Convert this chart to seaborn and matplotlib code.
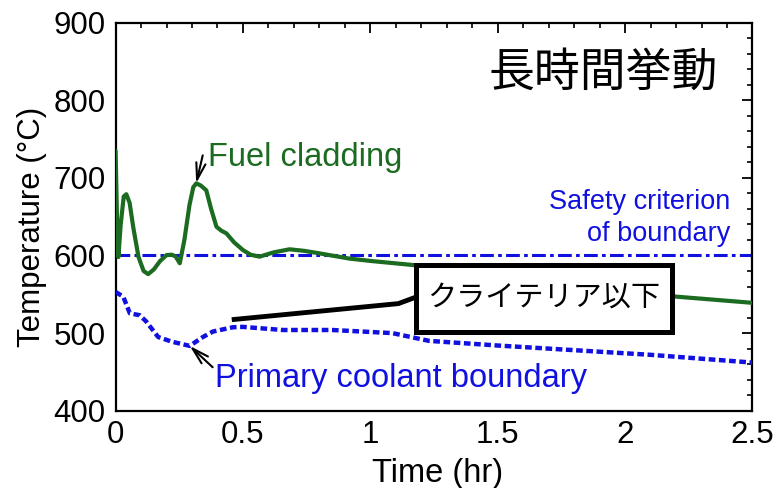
import matplotlib
matplotlib.use('Agg')
import matplotlib.pyplot as plt
from matplotlib.patches import Rectangle
from matplotlib.ticker import MultipleLocator
import pandas as pd
import seaborn as sns

# fuel cladding temperature (hr, degC)
fuel_t = [0.0, 0.006, 0.011, 0.02, 0.032, 0.042, 0.055, 0.07, 0.09, 0.11, 0.128,
          0.15, 0.175, 0.2, 0.22, 0.235, 0.252, 0.27, 0.29, 0.305, 0.317, 0.335,
          0.356, 0.375, 0.396, 0.415, 0.435, 0.465, 0.5, 0.53, 0.565, 0.62, 0.683,
          0.74, 0.787, 0.918, 1.0, 1.19, 1.5, 1.8, 2.0, 2.2, 2.5]
fuel_T = [735, 640, 598, 640, 676, 679, 668, 635, 598, 580, 576,
          582, 593, 600.5, 601, 599, 590, 620, 665, 688, 693, 690,
          684, 660, 637, 632, 628.5, 617, 607, 601, 598.5, 604, 608,
          606, 603.5, 596, 593, 587, 574, 562, 555, 547, 539]

# primary coolant boundary temperature
cool_t = [0.0, 0.03, 0.056, 0.095, 0.12, 0.167, 0.22, 0.291, 0.343, 0.382,
          0.46, 0.5, 0.656, 0.85, 1.086, 1.23, 1.5, 1.8, 2.1, 2.5]
cool_T = [553, 547, 525.5, 523, 515, 495, 489, 483.5, 495, 502,
          507.5, 508, 504, 504, 500, 490, 484, 478, 472, 462]

safety_T = 600

x_ticks = [0, 0.5, 1, 1.5, 2, 2.5]
x_ticklabels = ['0', '0.5', '1', '1.5', '2', '2.5']
y_ticks = [400, 500, 600, 700, 800, 900]

green = '#1b6b21'
blue = '#1010e0'

sns.set_theme(style='white')
plt.rcParams['font.family'] = ['Liberation Sans', 'Noto Sans CJK JP', 'DejaVu Sans']
plt.rcParams['text.color'] = 'black'
plt.rcParams['axes.labelcolor'] = 'black'

fuel = pd.DataFrame({'t': fuel_t, 'T': fuel_T})
cool = pd.DataFrame({'t': cool_t, 'T': cool_T})

fig = plt.figure(figsize=(7.81, 4.88), dpi=100)
ax = fig.add_axes([0.148, 0.1584, 0.8155, 0.7951])

ax.axhline(safety_T, color=blue, lw=2.2, linestyle=(0, (4.5, 1.4, 1.2, 1.4)), zorder=2)
sns.lineplot(x='t', y='T', data=cool, ax=ax, color=blue, lw=3.2,
             linestyle=(0, (1.5, 0.8)), estimator=None, sort=False, zorder=3)
sns.lineplot(x='t', y='T', data=fuel, ax=ax, color=green, lw=3.0,
             estimator=None, sort=False, zorder=4)

ax.set_xlim(0, 2.5)
ax.set_ylim(400, 900)
ax.set_xticks(x_ticks)
ax.set_xticklabels(x_ticklabels)
ax.set_yticks(y_ticks)
ax.xaxis.set_minor_locator(MultipleLocator(0.1))
ax.yaxis.set_minor_locator(MultipleLocator(20))
ax.tick_params(which='both', direction='in', top=True, right=True, colors='black',
               labelcolor='black', labelsize=22.5)
ax.tick_params(which='major', length=7, width=1.3, pad=7)
ax.tick_params(which='minor', length=3.5, width=1.2)
for s in ax.spines.values():
    s.set_linewidth(1.6)
    s.set_color('black')

ax.set_xlabel('Time (hr)', fontsize=23.5)
ax.set_ylabel('Temperature (°C)', fontsize=22.5)
ax.xaxis.set_label_coords(0.505, -0.122)
ax.yaxis.set_label_coords(-0.108, 0.475)

# annotations
arrow = dict(arrowstyle='->,head_length=1.0,head_width=0.28', color='black',
             lw=1.5, shrinkA=0, shrinkB=0)
ax.text(0.362, 726, 'Fuel cladding', color=green, fontsize=23.5,
        va='center', ha='left')
ax.annotate('', xy=(0.3165, 693), xytext=(0.342, 729), arrowprops=arrow)
ax.text(0.389, 442, 'Primary coolant boundary', color=blue, fontsize=23.5,
        va='center', ha='left')
ax.annotate('', xy=(0.291, 483.5), xytext=(0.381, 456), arrowprops=arrow)
ax.text(2.414, 648, 'Safety criterion\nof boundary', color=blue, fontsize=19.5,
        ha='right', va='center', multialignment='right', linespacing=1.3)

ax.text(0.946, 0.873, '長時間挙動', transform=ax.transAxes, fontsize=33,
        family='Noto Sans CJK JP', ha='right', va='center', color='black')

# callout box
ax.plot([0.456, 1.11, 1.18], [517.3, 538, 546.5], color='black', lw=3.5,
        solid_capstyle='butt', zorder=5)
ax.add_patch(Rectangle((0.4716, 0.2036), 0.4015, 0.1719, transform=ax.transAxes,
                       facecolor='white', edgecolor='black', lw=3.6, zorder=6))
ax.text(0.6726, 0.2905, 'クライテリア以下', transform=ax.transAxes, fontsize=21,
        family='Noto Sans CJK JP', ha='center', va='center', zorder=7)

fig.savefig('out.png', dpi=100)
